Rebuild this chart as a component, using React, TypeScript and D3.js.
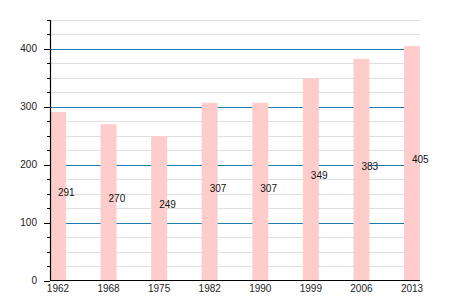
import React from "react";
import * as d3 from "d3";

const years = ["1962", "1968", "1975", "1982", "1990", "1999", "2006", "2013"];
const population = [291, 270, 249, 307, 307, 349, 383, 405];
const majorTicks = [0, 100, 200, 300, 400];
const minorTicks = d3.range(25, 451, 25).filter((v) => v % 100 !== 0);

const W = 450;
const H = 300;
const font = "'Liberation Sans', Arial, sans-serif";

export default function App() {
  const x = d3
    .scaleBand<string>()
    .domain(years)
    .range([50, 420])
    .paddingInner(0.684)
    .paddingOuter(0)
    .align(0);
  const y = d3.scaleLinear().domain([0, 450]).range([280.5, 20]);
  const x0 = 50;
  const x1 = 420;

  return (
    <svg
      width={W}
      height={H}
      style={{ position: "absolute", left: 0, top: 0, background: "#fff" }}
      fontFamily={font}
      fontSize={10}
    >
      {/* minor grid */}
      {minorTicks.map((v) => (
        <line key={"g" + v} x1={x0} x2={x1} y1={Math.round(y(v)) + 0.5} y2={Math.round(y(v)) + 0.5} stroke="#e0e0e0" strokeWidth={1} />
      ))}
      {/* major grid */}
      {majorTicks
        .filter((v) => v > 0)
        .map((v) => (
          <line key={"M" + v} x1={x0} x2={x1} y1={Math.round(y(v)) + 0.5} y2={Math.round(y(v)) + 0.5} stroke="#1a7fae" strokeWidth={1} />
        ))}
      {/* bars */}
      {years.map((yr, i) => (
        <rect
          key={yr}
          x={x(yr)}
          y={y(population[i])}
          width={x.bandwidth()}
          height={y(0) - y(population[i])}
          fill="#ffcccc"
        />
      ))}
      {/* value labels */}
      {years.map((yr, i) => (
        <text
          key={"v" + yr}
          x={(x(yr) as number) + x.bandwidth() / 2}
          y={y(population[i] / 2)}
          fill="#111"
          textAnchor="start"
        >
          {population[i]}
        </text>
      ))}
      {/* y axis */}
      <line x1={x0 + 0.5} x2={x0 + 0.5} y1={20} y2={281} stroke="#000" strokeWidth={1.2} />
      {minorTicks.map((v) => (
        <line key={"mt" + v} x1={47} x2={x0} y1={Math.round(y(v)) + 0.5} y2={Math.round(y(v)) + 0.5} stroke="#000" strokeWidth={1} />
      ))}
      {majorTicks.map((v) => (
        <g key={"t" + v}>
          <line x1={44} x2={x0} y1={Math.round(y(v)) + 0.5} y2={Math.round(y(v)) + 0.5} stroke="#000" strokeWidth={1} />
          <text x={37} y={y(v) + 3.5} textAnchor="end" fill="#222">
            {v}
          </text>
        </g>
      ))}
      {/* x axis */}
      <line x1={x0} x2={x1} y1={280.5} y2={280.5} stroke="#000" strokeWidth={1.2} />
      {years.map((yr) => (
        <text
          key={"x" + yr}
          x={(x(yr) as number) + x.bandwidth() / 2}
          y={292}
          textAnchor="middle"
          fill="#222"
        >
          {yr}
        </text>
      ))}
    </svg>
  );
}
